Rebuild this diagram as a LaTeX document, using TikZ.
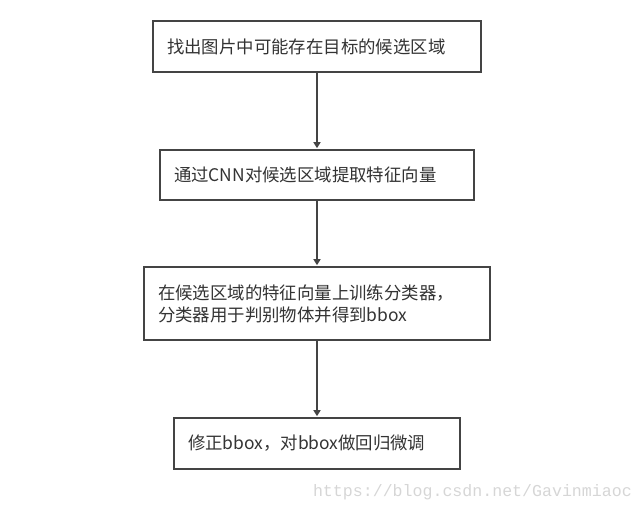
\documentclass[tikz,border=0pt]{standalone}
\usepackage{fontspec}
\setmainfont{Noto Sans CJK SC}
\newfontfamily\wmfont{Liberation Mono}
\usetikzlibrary{arrows.meta}
\definecolor{edge}{HTML}{444444}
\definecolor{txt}{HTML}{333333}
\definecolor{wm}{HTML}{D6D6D6}
\tikzset{
  stepbox/.style={draw=edge, line width=2.6pt, fill=white, align=left,
    inner xsep=14pt, inner ysep=0pt, text=txt,
    font=\fontsize{17.4pt}{22pt}\selectfont},
  flow/.style={draw=edge, line width=2.2pt,
    -{Triangle[width=7pt,length=6pt]}, shorten >=0.5pt}
}
\begin{document}
\begin{tikzpicture}[x=1pt,y=-1pt]
\useasboundingbox (0,0) rectangle (643,511);
\node[stepbox, text width=300pt, minimum height=51pt] (b1) at (317,46.5) {找出图片中可能存在目标的候选区域};
\node[stepbox, text width=286pt, minimum height=50pt] (b2) at (317,175) {通过CNN对候选区域提取特征向量};
\node[stepbox, text width=318pt, minimum height=73pt] (b3) at (317,303.5) {在候选区域的特征向量上训练分类器，\\分类器用于判别物体并得到bbox};
\node[stepbox, text width=258pt, minimum height=51pt] (b4) at (317,443.5) {修正bbox，对bbox做回归微调};
\draw[flow] (b1.south) -- (b2.north);
\draw[flow] (b2.south) -- (b3.north);
\draw[flow] (b3.south) -- (b4.north);
\node[anchor=east, inner sep=0pt, text=wm, font=\wmfont\fontsize{16.6pt}{18pt}\selectfont] (wmk) at (632,492) {https://blog.csdn.net/Gavinmiaoc};
\end{tikzpicture}
\end{document}
